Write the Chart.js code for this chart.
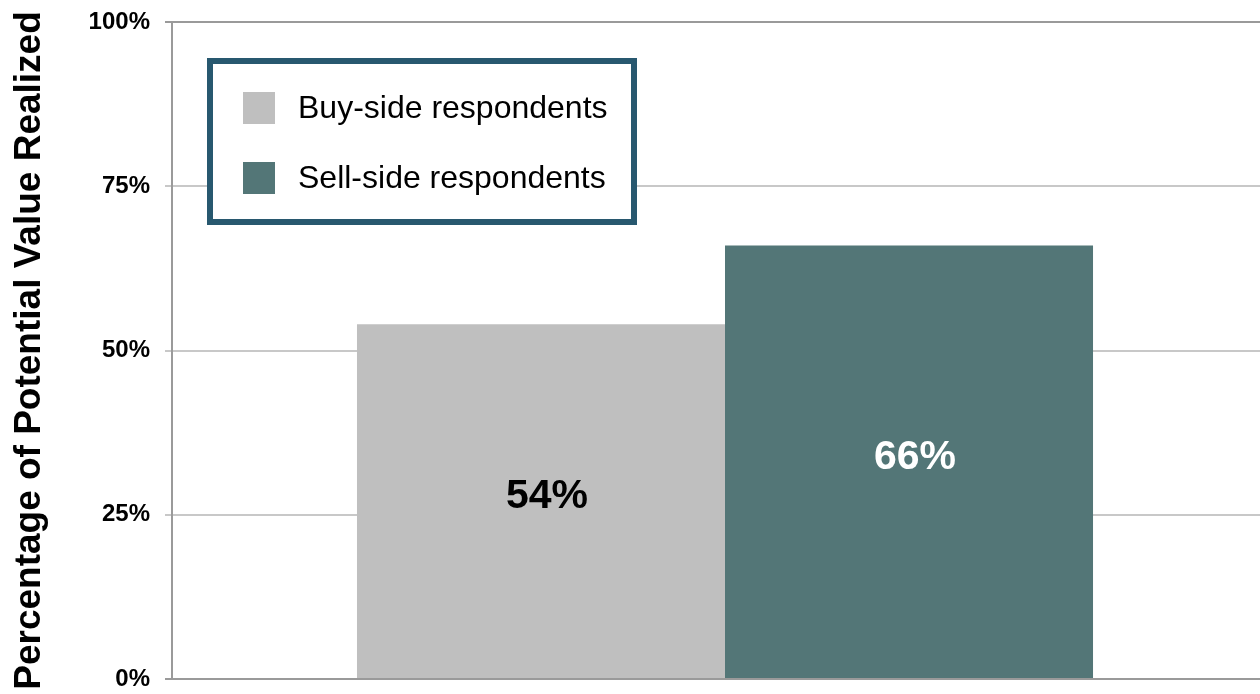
<!DOCTYPE html>
<html>
<head>
<meta charset="utf-8">
<title>Percentage of Potential Value Realized</title>
<script src="https://cdn.jsdelivr.net/npm/chart.js@4.4.1/dist/chart.umd.min.js"></script>
<style>
  html, body { margin: 0; padding: 0; background: #fff; overflow: hidden; }
</style>
</head>
<body>
<canvas id="valueChart" width="1280" height="694"></canvas>
<script>
  // Chart data
  const groups = [""];
  const seriesNames = ["Buy-side respondents", "Sell-side respondents"];
  const buySide = [54];
  const sellSide = [66];
  const yTicks = [0, 25, 50, 75, 100];

  const FONT = '"Liberation Sans", Arial, Helvetica, sans-serif';
  const barColors = ["#bfbfbf", "#537677"];
  const labelColors = ["#000000", "#ffffff"];

  // Value printed in the middle of each bar
  const barValueLabels = {
    id: "barValueLabels",
    afterDatasetsDraw(chart) {
      const ctx = chart.ctx;
      ctx.save();
      ctx.font = "bold 41px " + FONT;
      ctx.textAlign = "center";
      ctx.textBaseline = "middle";
      chart.data.datasets.forEach((ds, i) => {
        chart.getDatasetMeta(i).data.forEach((bar, j) => {
          ctx.fillStyle = labelColors[i];
          ctx.fillText(ds.data[j] + "%", bar.x + 6, (bar.y + bar.base) / 2 - 4);
        });
      });
      ctx.restore();
    }
  };

  // Boxed legend sitting inside the plot area
  const boxLegend = {
    id: "boxLegend",
    afterDraw(chart) {
      const ctx = chart.ctx;
      const area = chart.chartArea;
      const x = area.left + 38, y = area.top + 39, w = 424, h = 161;
      ctx.save();
      ctx.fillStyle = "#ffffff";
      ctx.fillRect(x, y, w, h);
      ctx.strokeStyle = "#28586f";
      ctx.lineWidth = 6;
      ctx.strokeRect(x, y, w, h);
      ctx.font = "32px " + FONT;
      ctx.textBaseline = "middle";
      chart.data.datasets.forEach((ds, i) => {
        const cy = y + 47 + i * 70;
        ctx.fillStyle = ds.backgroundColor;
        ctx.fillRect(x + 33, cy - 16, 32, 32);
        ctx.fillStyle = "#000000";
        ctx.fillText(ds.label, x + 88, cy + 1);
      });
      ctx.restore();
    }
  };

  const ctx = document.getElementById("valueChart").getContext("2d");
  const valueChart = new Chart(ctx, {
    type: "bar",
    data: {
      labels: groups,
      datasets: [
        {
          label: seriesNames[0],
          data: buySide,
          backgroundColor: barColors[0],
          borderWidth: 0,
        },
        {
          label: seriesNames[1],
          data: sellSide,
          backgroundColor: barColors[1],
          borderWidth: 0,
        },
      ],
    },
    options: {
      responsive: false,
      animation: false,
      layout: { padding: { top: 22, right: 2, left: 0, bottom: 0 } },
      categoryPercentage: 0.6655,
      barPercentage: 1,
      plugins: {
        legend: { display: false },
        tooltip: { enabled: false },
      },
      scales: {
        x: {
          grid: { display: false },
          ticks: { display: false },
          border: { display: true, color: "#9a9a9a", width: 2 },
          afterFit(scale) { scale.height = 15; },
        },
        y: {
          min: 0,
          max: 100,
          afterBuildTicks(scale) {
            scale.ticks = yTicks.map((v) => ({ value: v }));
          },
          grid: {
            lineWidth: 2,
            tickLength: 7,
            color: (c) => (c.tick && (c.tick.value === 100 || c.tick.value === 0)) ? "#9a9a9a" : "#c8c8c8",
          },
          border: { display: true, color: "#9a9a9a", width: 2 },
          ticks: {
            padding: 15,
            color: "#000000",
            font: { family: FONT, size: 24, weight: "bold" },
            callback: (v) => v + "%",
          },
          title: {
            display: true,
            text: "Percentage of Potential Value Realized",
            color: "#000000",
            font: { family: FONT, size: 37, weight: "bold" },
            padding: { top: 8, bottom: 0 },
          },
          afterFit(scale) {
            scale.width = 172;
            // no extra room for the first/last tick label
            scale.paddingTop = 0;
            scale.paddingBottom = 0;
          },
        },
      },
    },
    plugins: [barValueLabels, boxLegend],
  });
</script>
</body>
</html>
